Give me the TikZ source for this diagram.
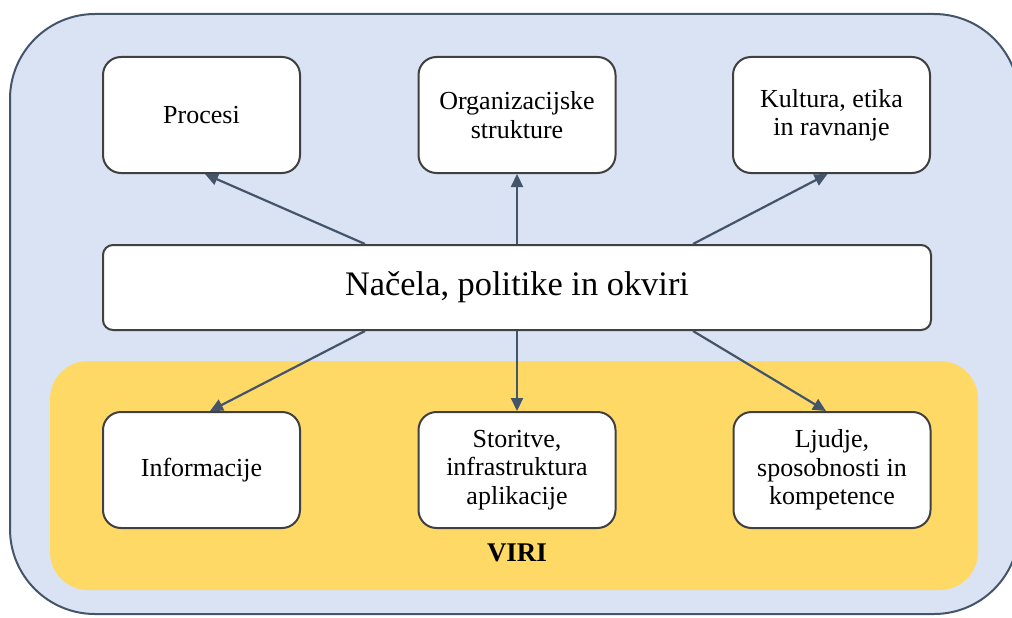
\documentclass[tikz,border=0pt]{standalone}
\usepackage{fontspec}
\setmainfont{Liberation Serif}
\usetikzlibrary{arrows.meta}
\definecolor{paleblue}{HTML}{DAE3F3}
\definecolor{slate}{HTML}{44546A}
\definecolor{gold}{HTML}{FFD966}
\definecolor{boxline}{HTML}{404040}

\begin{document}
\begin{tikzpicture}[x=1pt,y=-1pt,
    box/.style={draw=boxline,line width=2pt,fill=white,rounded corners=18pt,
      minimum width=197pt,minimum height=116pt,align=center,
      font=\fontsize{26}{28.5}\selectfont},
    wide/.style={draw=boxline,line width=2pt,fill=white,rounded corners=10pt,
      minimum width=828pt,minimum height=85pt,
      font=\fontsize{34.4}{40}\selectfont},
    link/.style={draw=slate,line width=2.2pt,-{Triangle[length=13pt,width=12pt]}}]
      \useasboundingbox (0,0) rectangle (1012,618);
      \begin{scope}
        \clip (0,0) rectangle (1012,618);
        \draw[slate,line width=2pt,fill=paleblue,rounded corners=85pt] (10,14) rectangle (1019,614);
      \end{scope}
      \fill[gold,rounded corners=38pt] (50,361) rectangle (978,590);
      \draw
        (201.5,115) node[box] (procesi){Procesi}
        (517,115) node[box] (org){Organizacijske\\strukture}
        (831.5,115) node[box] (kultura){Kultura, etika\\in ravnanje}
        (517,287.5) node[wide] (nacela){Načela, politike in okviri}
        (201.5,470) node[box] (info){Informacije}
        (517,470) node[box] (storitve){Storitve,\\infrastruktura\\aplikacije}
        (832,470) node[box] (ljudje){Ljudje,\\sposobnosti in\\kompetence}
        (517,553) node[font=\fontsize{27}{30}\selectfont\bfseries] (viri){VIRI};
      \begin{scope}[link]
        \draw ([xshift=-152pt]nacela.north) to ([xshift=3.5pt]procesi.south);
        \draw (nacela.north) to (org.south);
        \draw ([xshift=176pt]nacela.north) to ([xshift=-4pt]kultura.south);
        \draw ([xshift=-152pt]nacela.south) to ([xshift=8.5pt]info.north);
        \draw (nacela.south) to (storitve.north);
        \draw ([xshift=176pt]nacela.south) to ([xshift=-6pt]ljudje.north);
      \end{scope}
    \end{tikzpicture}
\end{document}
